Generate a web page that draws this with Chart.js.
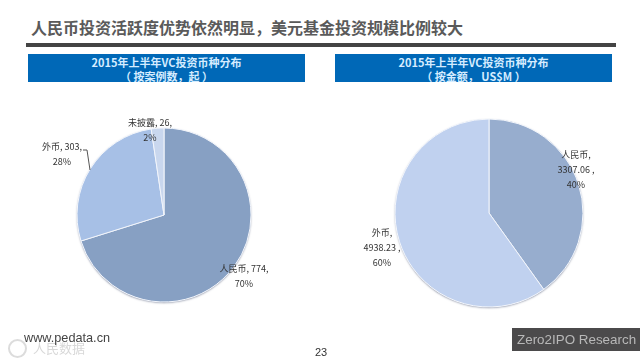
<!DOCTYPE html>
<html>
<head>
<meta charset="utf-8">
<script src="https://cdn.jsdelivr.net/npm/chart.js@4"></script>
<style>
  html, body { margin: 0; padding: 0; background: #fff; }
  #page { position: relative; width: 640px; height: 360px; overflow: hidden; font-family: "Noto Sans CJK SC", "Liberation Sans", sans-serif; }
  #page div, #page canvas { position: absolute; }
  .title { left: 31px; top: 15px; font-size: 16px; font-weight: 700; line-height: 24px; color: #5a5a5a; white-space: nowrap; }
  .rule { left: 26px; top: 43px; width: 590px; height: 4px; background: #444; }
  .head { top: 54px; width: 277px; height: 28px; padding-top: 1px; box-sizing: border-box; background: #0068b7; color: #d5ecff; font-size: 11px; font-weight: 700; line-height: 14px; text-align: center; }
  .www { left: 24px; top: 331px; font: 12.7px "Liberation Sans"; color: #444; }
  .ring { left: 8px; top: 339px; width: 15px; height: 15px; border: 2px solid #dcdcdc; border-radius: 50%; }
  .mark { left: 33px; top: 339px; font-size: 13px; line-height: 18px; color: #d8d8d8; white-space: nowrap; }
  .page { left: 315px; top: 346px; font: 11px "Liberation Sans"; color: #333; }
  .logo { left: 512px; top: 328px; width: 128px; height: 23px; background: #4b4a4b; color: #b8b8b8; font: 13.4px/23px "Liberation Sans"; text-indent: 5px; white-space: nowrap; }
</style>
</head>
<body>
<div id="page">
  <div class="title">人民币投资活跃度优势依然明显，美元基金投资规模比例较大</div>
  <div class="rule"></div>
  <div class="head" style="left:28px">2015年上半年VC投资币种分布<br>（ 按案例数，起 ）</div>
  <div class="head" style="left:335px">2015年上半年VC投资币种分布<br>（ 按金额， US$M ）</div>
  <canvas id="pieCount" width="328" height="230" style="left:0;top:100px"></canvas>
  <canvas id="pieAmount" width="280" height="230" style="left:349px;top:98px"></canvas>
  <div class="ring"></div>
  <div class="mark">人民数据</div>
  <div class="www">www.pedata.cn</div>
  <div class="page">23</div>
  <div class="logo">Zero2IPO Research</div>
</div>
<script>
const countLabels = ["人民币", "外币", "未披露"];
const countValues = [774, 303, 26];
const countPercents = ["70%", "28%", "2%"];

const amountLabels = ["人民币", "外币"];
const amountValues = [3307.06, 4938.23];
const amountPercents = ["40%", "60%"];

// soft edge under the pie, then the label text on top
const labelPlugin = {
  id: "sliceLabels",
  beforeDatasetsDraw(chart) {
    const ctx = chart.ctx;
    const arc = chart.getDatasetMeta(0).data[0];
    ctx.save();
    ctx.shadowColor = "rgba(70, 80, 110, 0.6)";
    ctx.shadowBlur = 2;
    ctx.shadowOffsetY = 1;
    ctx.fillStyle = "#dfe6f3";
    ctx.beginPath();
    ctx.arc(arc.x, arc.y, arc.outerRadius, 0, Math.PI * 2);
    ctx.fill();
    ctx.restore();
  },
  afterDatasetsDraw(chart, args, opts) {
    const ctx = chart.ctx;
    ctx.save();
    ctx.font = '9px "Noto Sans CJK SC", "Liberation Sans"';
    ctx.fillStyle = "#333";
    ctx.textAlign = "center";
    ctx.textBaseline = "middle";
    opts.items.forEach((item) => {
      item.lines.forEach((line, i) => ctx.fillText(line, item.x, item.y + i * 15));
    });
    if (opts.leader) {
      ctx.strokeStyle = "#555";
      ctx.lineWidth = 1;
      ctx.beginPath();
      opts.leader.forEach((p, i) => (i ? ctx.lineTo(p[0], p[1]) : ctx.moveTo(p[0], p[1])));
      ctx.stroke();
    }
    ctx.restore();
  }
};

function makePie(id, labels, values, colors, radius, items, leader) {
  return new Chart(document.getElementById(id).getContext("2d"), {
    type: "pie",
    data: {
      labels: labels,
      datasets: [{
        data: values,
        backgroundColor: colors,
        borderColor: "#f2f5fb",
        borderWidth: 1
      }]
    },
    options: {
      responsive: false,
      animation: false,
      radius: radius,
      plugins: {
        legend: { display: false },
        tooltip: { enabled: false },
        sliceLabels: { items: items, leader: leader }
      }
    },
    plugins: [labelPlugin]
  });
}

makePie("pieCount", countLabels, countValues, ["#87a0c3", "#a7c0e6", "#c9d7ee"], 87, [
  { lines: [countLabels[0] + ", " + countValues[0] + ",", countPercents[0]], x: 244, y: 169 },
  { lines: [countLabels[1] + ", " + countValues[1] + ",", countPercents[1]], x: 62, y: 47 },
  { lines: [countLabels[2] + ", " + countValues[2] + ",", countPercents[2]], x: 150, y: 23 }
], [[83, 50], [87, 50], [90, 70]]);

makePie("pieAmount", amountLabels, amountValues, ["#97adce", "#c0d1ef"], 94, [
  { lines: [amountLabels[0] + ",", amountValues[0] + " ,", amountPercents[0]], x: 227, y: 57 },
  { lines: [amountLabels[1] + ",", amountValues[1] + " ,", amountPercents[1]], x: 33, y: 135 }
]);
</script>
</body>
</html>
